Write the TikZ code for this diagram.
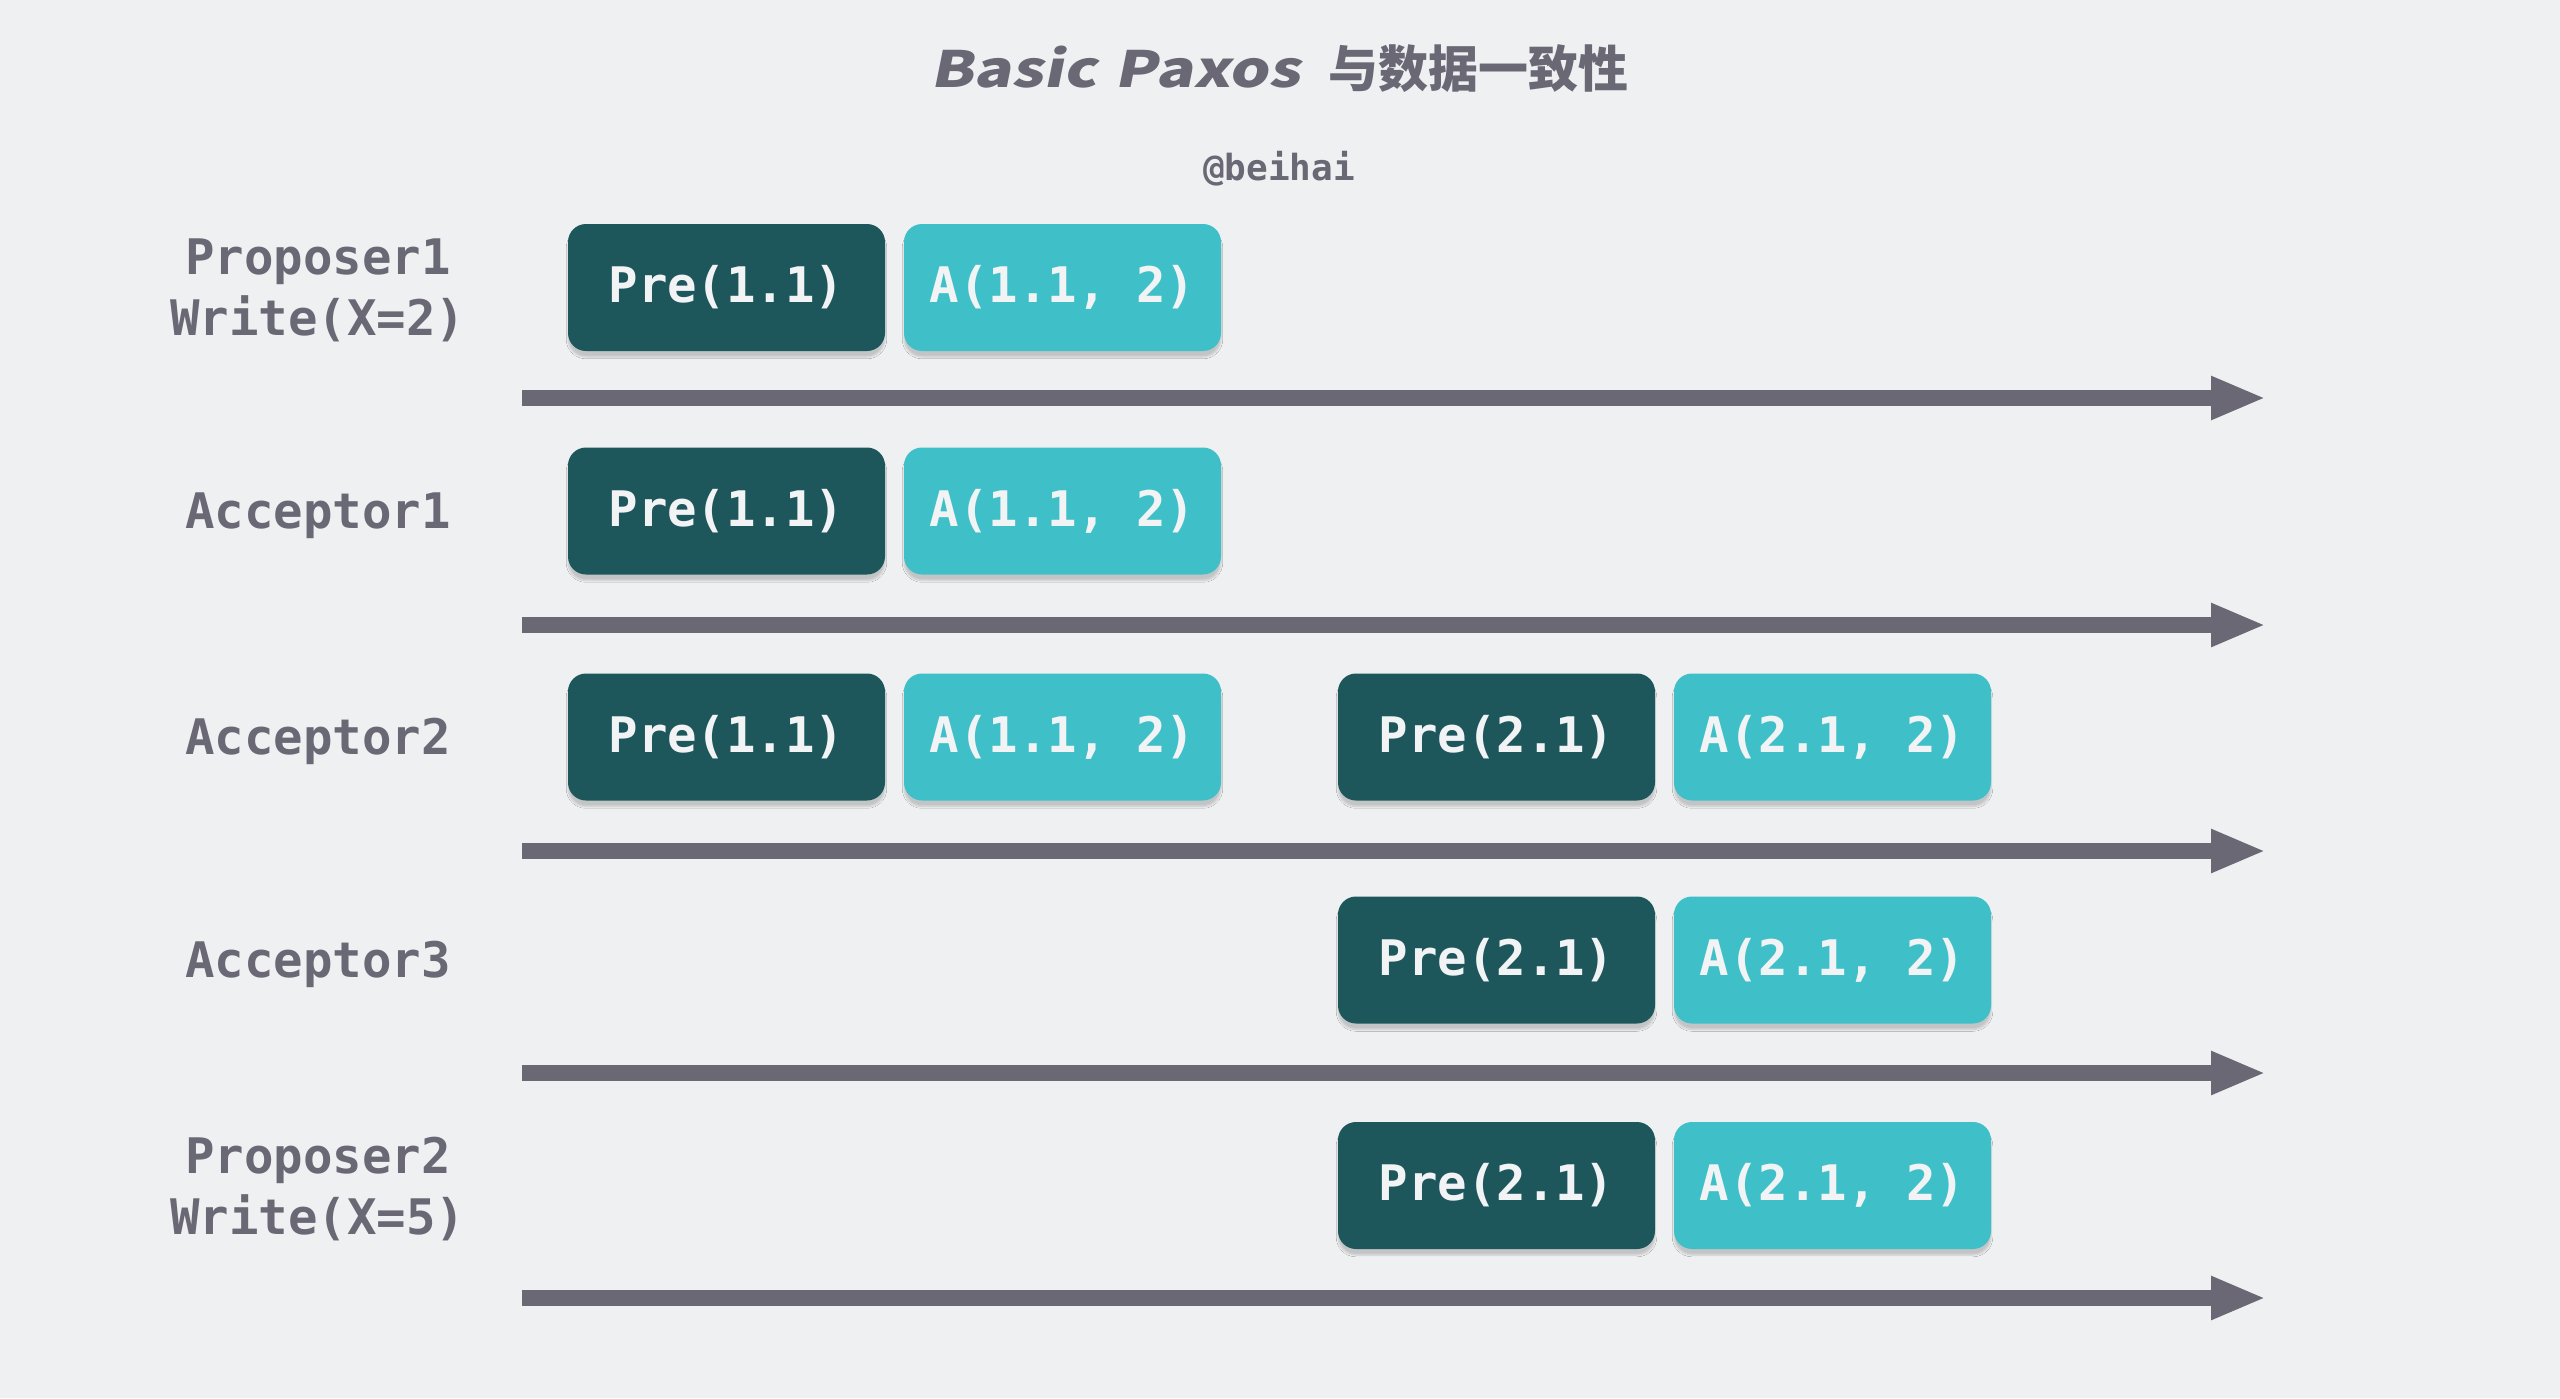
\documentclass[tikz,border=0pt]{standalone}
\usepackage{fontspec}
\setmonofont{DejaVu Sans Mono}
\newfontfamily\titlefont{Noto Sans CJK SC}
\usetikzlibrary{arrows.meta,shadows.blur}
\definecolor{bg}{HTML}{EFF0F2}
\definecolor{ink}{HTML}{6A6875}
\definecolor{darkbox}{HTML}{1D575C}
\definecolor{lightbox}{HTML}{3FC0C8}
\definecolor{boxtext}{HTML}{F2F3F5}
\tikzset{
  base/.style={inner sep=0pt, font=\ttfamily\bfseries\fontsize{49}{60}\selectfont},
  evbox/.style={base, minimum width=317pt, minimum height=127pt, rounded corners=18pt,
    text=boxtext, blur shadow={shadow xshift=0pt, shadow yshift=-6pt, shadow blur steps=6, shadow opacity=18}},
  prebox/.style={evbox, fill=darkbox},
  accbox/.style={evbox, fill=lightbox},
  rolelabel/.style={base, text=ink, align=center},
  timeline/.style={line width=16pt, draw=ink, -{Triangle[length=55pt,width=40pt]}},
}
\begin{document}
\begin{tikzpicture}[x=1pt,y=-1pt]
\fill[bg] (0,0) rectangle (2560,1398);
\useasboundingbox (0,0) rectangle (2560,1398);

\node[text=ink, inner sep=0pt, font=\titlefont\bfseries\fontsize{50}{60}\selectfont] (title) at (1279,69)
  {{\addfontfeature{FakeSlant=0.2,FakeStretch=1.25}Basic\hspace{18pt}Paxos}\hspace{28pt}与数据一致性};
\node[text=ink, inner sep=0pt, font=\ttfamily\bfseries\fontsize{36}{44}\selectfont] (author) at (1279,169) {@beihai};

% labels
\node[rolelabel] (l1) at (318,290) {Proposer1\\[1pt]Write(X=2)};
\node[rolelabel] (l2) at (318,516) {Acceptor1};
\node[rolelabel] (l3) at (318,741) {Acceptor2};
\node[rolelabel] (l4) at (318,964) {Acceptor3};
\node[rolelabel] (l5) at (318,1189) {Proposer2\\[1pt]Write(X=5)};

% boxes
\node[prebox] (p1a) at (726.5,287.5) {Pre(1.1)};
\node[accbox] (p1b) at (1062.5,287.5) {A(1.1, 2)};

\node[prebox] (a1a) at (726.5,511) {Pre(1.1)};
\node[accbox] (a1b) at (1062.5,511) {A(1.1, 2)};

\node[prebox] (a2a) at (726.5,737) {Pre(1.1)};
\node[accbox] (a2b) at (1062.5,737) {A(1.1, 2)};
\node[prebox] (a2c) at (1496.5,737) {Pre(2.1)};
\node[accbox] (a2d) at (1832.5,737) {A(2.1, 2)};

\node[prebox] (a3c) at (1496.5,960) {Pre(2.1)};
\node[accbox] (a3d) at (1832.5,960) {A(2.1, 2)};

\node[prebox] (p2c) at (1496.5,1185.5) {Pre(2.1)};
\node[accbox] (p2d) at (1832.5,1185.5) {A(2.1, 2)};

% timelines
\foreach \i/\y in {1/398,2/625,3/851,4/1073,5/1298}{
  \coordinate (s\i) at (522,\y);
  \coordinate (e\i) at (2266,\y);
  \draw[timeline] (s\i) -- (e\i);
}
\end{tikzpicture}
\end{document}
